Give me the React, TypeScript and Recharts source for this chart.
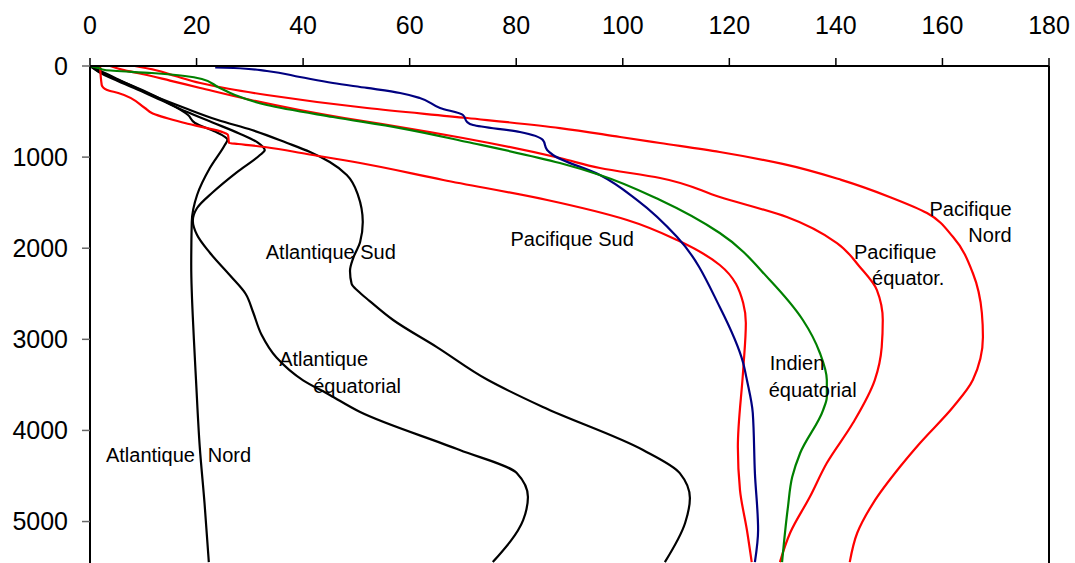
import React from 'react';
import { LineChart, Line, XAxis, YAxis, ReferenceLine, ReferenceDot } from 'recharts';

// axis ticks
const X_TICKS = [0, 20, 40, 60, 80, 100, 120, 140, 160, 180];
const DEPTH_TICKS = [0, 1000, 2000, 3000, 4000, 5000];

type Pt = { v: number; d: number };
const pts = (rows: number[][]): Pt[] => rows.map(([v, d]) => ({ v, d }));

// profiles: [value, depth (m)]
const atlantiqueNord = pts([
  [0, 0], [2.2, 77], [6, 170], [10, 270], [14.5, 400], [18.4, 538], [19.7, 626], [23.5, 720],
  [25.8, 810], [25.3, 867], [22.5, 1120], [20.1, 1416], [19.1, 1712], [19, 2184], [19.5, 3000],
  [19.9, 3450], [20.6, 4180], [21.5, 4800], [22.3, 5445],
]);

const atlantiqueEquatorial = pts([
  [0, 0], [1.5, 60], [5, 160], [9, 260], [13.5, 380], [18, 500], [23, 620], [28, 740],
  [31.5, 840], [32.8, 922], [31.9, 977], [27.6, 1164], [23.1, 1383], [20.1, 1559], [19.3, 1700],
  [20.1, 1855], [22.5, 2050], [26.3, 2300], [29.2, 2500], [30.6, 2700], [32.2, 2950], [35, 3200],
  [40, 3450], [45, 3611], [50.7, 3798], [69.4, 4215], [80.1, 4468], [82.2, 4731], [81.3, 4984],
  [75.6, 5445],
]);

const atlantiqueSud = pts([
  [0, 0], [1.5, 40], [5, 140], [11.6, 318], [17.8, 461], [24, 593], [30.4, 703], [37, 845],
  [41.3, 944], [45, 1054], [48.2, 1196], [50.3, 1416], [51.2, 1712], [50.7, 1932], [49.4, 2108],
  [48.8, 2250], [49.1, 2390], [50.3, 2470], [52.5, 2580], [56.9, 2788], [65.1, 3085], [74.7, 3447],
  [85, 3743], [103.8, 4215], [110.7, 4468], [112.6, 4742], [111.7, 5016], [107.9, 5445],
]);

const pacifiqueSud = pts([
  [1.9, 0], [2.2, 208], [3.2, 263], [5.3, 296], [10.3, 461], [11.6, 516], [17.8, 626],
  [25.3, 735], [25.9, 757], [26.1, 845], [27.8, 856], [32.8, 889], [40.7, 966], [50.7, 1065],
  [66.3, 1251], [85.8, 1471], [100.8, 1690], [110.2, 1910], [118.2, 2184], [122.6, 2602],
  [123.1, 2821], [122.6, 3337], [121.6, 4182], [122, 4654], [123.3, 5093], [124.2, 5445],
]);

const pacifiqueEquator = pts([
  [3.8, 0], [6, 40], [10, 90], [15, 160], [20.7, 241], [30, 370], [39.4, 483], [50.7, 600],
  [58.2, 670], [70, 790], [88.2, 1010], [95.7, 1120], [107, 1229], [118.2, 1438], [130.8, 1658],
  [140.2, 1943], [144.5, 2206], [147.7, 2459], [148.8, 2788], [148.6, 3085], [147.3, 3447],
  [143.2, 3919], [138.3, 4358], [135.1, 4731], [131.4, 5126], [129.5, 5445],
]);

const pacifiqueNord = pts([
  [8.4, 0], [12.2, 44], [16, 110], [20.7, 187], [26, 250], [33.2, 318], [52, 461], [70.8, 571],
  [88.2, 681], [99.5, 779], [107, 845], [118.2, 944], [130, 1075], [141, 1250], [150.2, 1440],
  [157.1, 1614], [162, 1877], [165.7, 2272], [167.4, 2711], [167.6, 2975], [165.7, 3447],
  [162, 3743], [155.8, 4138], [152, 4402], [147, 4797], [144, 5126], [142.6, 5445],
]);

const indienBleu = pts([
  [23.5, 15], [27, 22], [33.2, 55], [39.4, 121], [45.6, 187], [52, 241], [58.2, 296],
  [61.9, 351], [65.7, 461], [70, 538], [70.8, 615], [71.9, 648], [80.7, 724], [85, 812],
  [85.8, 922], [86.9, 977], [95.7, 1196], [102.7, 1471], [110.2, 1877], [118.2, 2645],
  [122.6, 3260], [123.3, 3447], [124.4, 3809], [124.8, 4468], [125.4, 5093], [124.8, 5445],
]);

const indienVert = pts([
  [0, 0], [1.5, 20], [2.8, 44], [11.6, 77], [17.8, 110], [21, 143], [24, 230], [27.2, 318],
  [33.2, 428], [45.6, 560], [58.2, 681], [70.8, 834], [88.2, 1065], [95.7, 1196], [107, 1471],
  [118.2, 1833], [127.6, 2349], [133.8, 2788], [137, 3150], [138.3, 3447], [138.3, 3633],
  [137.6, 3776], [133.3, 4248], [131.8, 4512], [131, 4841], [129.9, 5445],
]);

const SERIES = [
  { name: 'Atlantique Nord', data: atlantiqueNord, color: '#000000' },
  { name: 'Atlantique équatorial', data: atlantiqueEquatorial, color: '#000000' },
  { name: 'Atlantique Sud', data: atlantiqueSud, color: '#000000' },
  { name: 'Pacifique Sud', data: pacifiqueSud, color: '#FF0000' },
  { name: 'Pacifique équator.', data: pacifiqueEquator, color: '#FF0000' },
  { name: 'Pacifique Nord', data: pacifiqueNord, color: '#FF0000' },
  { name: 'Indien', data: indienBleu, color: '#000080' },
  { name: 'Indien équatorial', data: indienVert, color: '#008000' },
];

// curve labels, placed in data space
const LABELS = [
  { text: 'Atlantique Sud', v: 45.2, d: 2042, anchor: 'middle' },
  { text: 'Pacifique Sud', v: 90.5, d: 1899, anchor: 'middle' },
  { text: 'Pacifique', v: 173, d: 1570, anchor: 'end' },
  { text: 'Nord', v: 173, d: 1855, anchor: 'end' },
  { text: 'Pacifique', v: 143.4, d: 2042, anchor: 'start' },
  { text: 'équator.', v: 146.8, d: 2327, anchor: 'start' },
  { text: 'Indien', v: 127.6, d: 3260, anchor: 'start' },
  { text: 'équatorial', v: 127.4, d: 3557, anchor: 'start' },
  { text: 'Atlantique', v: 35.5, d: 3216, anchor: 'start' },
  { text: 'équatorial', v: 41.9, d: 3513, anchor: 'start' },
  { text: 'Atlantique', v: 3.0, d: 4270, anchor: 'start' },
  { text: 'Nord', v: 22.1, d: 4270, anchor: 'start' },
];

const FONT = '"Liberation Sans", Arial, sans-serif';

export default function App() {
  return (
    <div style={{ position: 'absolute', left: 0, top: 0, background: '#fff' }}>
      <LineChart width={1075} height={563} margin={{ top: 0, right: 26, bottom: 0, left: 0 }}>
        <XAxis
          xAxisId="x"
          type="number"
          dataKey="v"
          orientation="top"
          domain={[0, 180]}
          ticks={X_TICKS}
          height={66}
          allowDataOverflow
          axisLine={{ stroke: '#000', strokeWidth: 2 }}
          tickLine={{ stroke: '#000', strokeWidth: 1.5 }}
          tickSize={8}
          tickMargin={24}
          tick={{ fill: '#000', fontSize: 25, fontFamily: FONT }}
        />
        <YAxis
          yAxisId="y"
          type="number"
          dataKey="d"
          reversed
          domain={[0, 5455]}
          ticks={DEPTH_TICKS}
          width={90}
          allowDataOverflow
          axisLine={{ stroke: '#000', strokeWidth: 2 }}
          tickLine={{ stroke: '#666', strokeWidth: 1.5 }}
          tickSize={8}
          tickMargin={14}
          tick={{ fill: '#000', fontSize: 25, fontFamily: FONT }}
        />
        <ReferenceLine xAxisId="x" yAxisId="y" x={180} stroke="#000" strokeWidth={2} />
        {SERIES.map(s => (
          <Line
            key={s.name}
            xAxisId="x"
            yAxisId="y"
            name={s.name}
            data={s.data}
            dataKey="d"
            type="monotoneY"
            stroke={s.color}
            strokeWidth={2.2}
            dot={false}
            activeDot={false}
            isAnimationActive={false}
          />
        ))}
        {LABELS.map((l, i) => (
          <ReferenceDot
            key={i}
            xAxisId="x"
            yAxisId="y"
            x={l.v}
            y={l.d}
            r={0}
            shape={(p: any) => (
              <text
                x={p.cx}
                y={p.cy}
                textAnchor={l.anchor}
                dominantBaseline="central"
                fontSize={20}
                fontFamily={FONT}
                fill="#000"
              >
                {l.text}
              </text>
            )}
          />
        ))}
      </LineChart>
    </div>
  );
}
